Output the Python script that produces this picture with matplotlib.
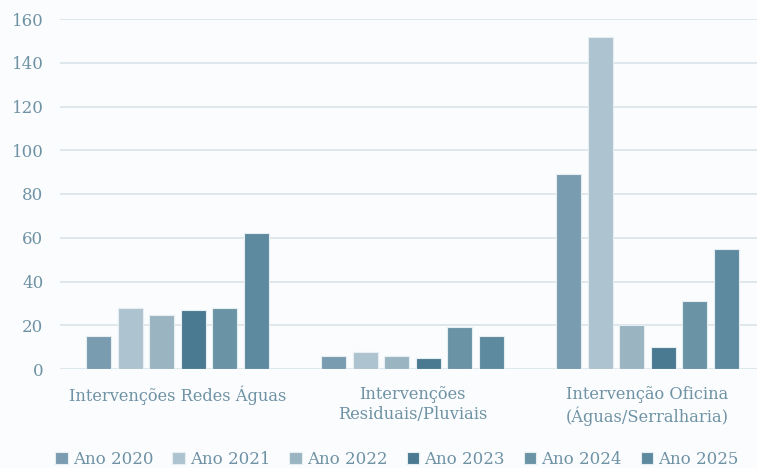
import matplotlib
matplotlib.use("Agg")
import matplotlib.pyplot as plt
import numpy as np

categories = ["Intervenções Redes Águas", "Intervenções\nResiduais/Pluviais", "Intervenção Oficina\n(Águas/Serralharia)"]
years = ["Ano 2020", "Ano 2021", "Ano 2022", "Ano 2023", "Ano 2024", "Ano 2025"]
v2020 = [15, 6, 89]
v2021 = [28, 8, 152]
v2022 = [24.5, 6, 20]
v2023 = [27, 5, 10]
v2024 = [28, 19, 31]
v2025 = [62, 15, 55]
series = [v2020, v2021, v2022, v2023, v2024, v2025]
colors = ["#7a9cb0", "#adc3cf", "#9ab4c2", "#4a7a92", "#6a93a6", "#5e8aa0"]

txt = "#6f92a5"
bg = "#fafcfd"
plt.rcParams['font.family'] = ['DejaVu Serif']

fig = plt.figure(figsize=(7.57, 4.68), dpi=100, facecolor=bg)
W, H = 757, 468
ax = fig.add_axes([60 / W, (H - 369) / H, 705 / W, 350 / H])
ax.set_facecolor(bg)

x = np.arange(len(categories))
step = 0.134
width = 0.106
for i, (s, c, lab) in enumerate(zip(series, colors, years)):
    ax.bar(x + (i - 2.5) * step, s, width=width, color=c, edgecolor="#e6eef2",
           linewidth=0.8, label=lab, zorder=3)

ax.set_xlim(-0.5, 2.5)
ax.set_ylim(0, 160)
ax.set_yticks(range(0, 161, 20))
ax.yaxis.grid(True, color="#d8e3e9", linewidth=1.2, zorder=0)
ax.set_xticks(x)
ax.set_xticklabels(categories, fontsize=11.7, color=txt, linespacing=1.25)
ax.tick_params(axis='y', labelsize=12, labelcolor=txt, length=0, pad=12)
ax.tick_params(axis='x', length=0, pad=12)
for sp in ax.spines.values():
    sp.set_visible(False)

leg = fig.legend(loc="center", bbox_to_anchor=(397 / W, 1 - 459 / H), ncol=6,
                 frameon=False, fontsize=12, labelcolor=txt, handlelength=0.75,
                 handleheight=0.75, handletextpad=0.3, columnspacing=1.15)

fig.savefig("out.png", dpi=100, facecolor=bg)
